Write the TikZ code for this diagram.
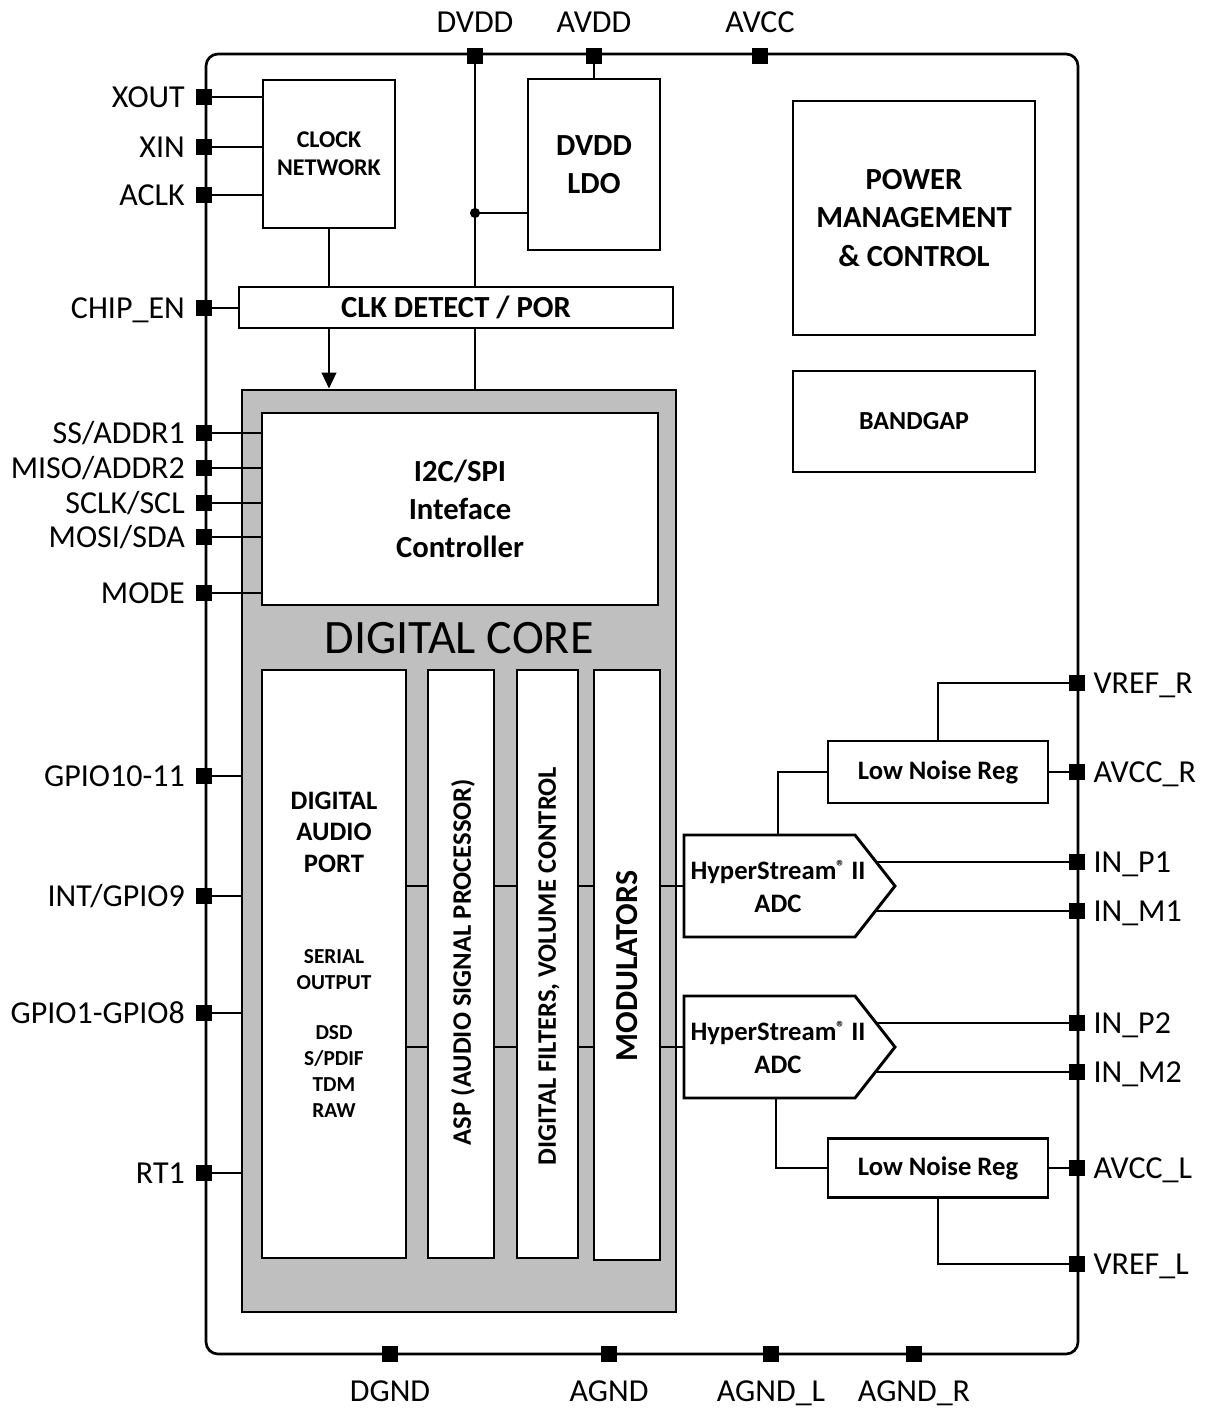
\documentclass[tikz,border=0pt]{standalone}
\usepackage{fontspec}
\setmainfont{Carlito}
\usetikzlibrary{arrows.meta,positioning,calc}
\definecolor{coregray}{HTML}{BFBFBF}
\newcommand{\myfs}[2]{\fontsize{#1}{#2}\selectfont}
\newcommand{\myreg}{{\myfs{13}{13}\raisebox{5pt}{®}}}
\begin{document}
\begin{tikzpicture}[x=0.75pt,y=-0.75pt,
  sz/.style 2 args={minimum width=#1*0.75pt, minimum height=#2*0.75pt},
  box/.style={draw, line width=2.2pt, fill=white, inner sep=0pt, align=center},
  wire/.style={line width=1.6pt},
  pinsq/.style={fill=black, minimum size=12pt, inner sep=0pt},
  pinl/.style={font=\myfs{24}{28}, inner sep=0pt, text height=15.5pt, text depth=0pt},
  btxt/.style={inner sep=0pt, align=center},
]
\useasboundingbox (0,0) rectangle (1209,1410);
\fill[white] (0,0) rectangle (1209,1410);

% chip outline and digital core
\node[box, sz={872}{1300}, rounded corners=9pt, line width=2pt] (chip) at (642,704) {};
\node[box, sz={434}{922}, fill=coregray] (core) at (459,851) {};

% blocks
\node[box, sz={132}{148}, font=\bfseries\myfs{18}{21}] (clk) at (329,154) {CLOCK\\NETWORK};
\node[box, sz={132}{171}, font=\bfseries\myfs{23}{28.5}] (ldo) at (594,164.5) {DVDD\\LDO};
\node[box, sz={434}{41}, font=\bfseries\myfs{23}{28}] (det) at (456,307.5) {CLK DETECT / POR};
\node[box, sz={242}{234}, font=\bfseries\myfs{23}{28.8}] (pmc) at (914,218) {POWER\\MANAGEMENT\\\& CONTROL};
\node[box, sz={242}{101}, font=\bfseries\myfs{19.5}{24}] (bg) at (914,421.5) {BANDGAP};
\node[box, sz={396}{192}, font=\bfseries\myfs{23}{28.5}] (i2c) at (460,509) {I2C/SPI\\Inteface\\Controller};
\node[btxt, font=\myfs{36}{40}] (coretitle) at (459,638) {DIGITAL CORE};

\node[box, sz={144}{588}] (dap) at (334,964) {};
\node[btxt, font=\bfseries\myfs{20}{23.6}] (daptxt1) at (334,832) {DIGITAL\\AUDIO\\PORT};
\node[btxt, font=\bfseries\myfs{16}{19.5}] (daptxt2) at (334,970) {SERIAL\\OUTPUT};
\node[btxt, font=\bfseries\myfs{16}{19.3}] (daptxt3) at (334,1071.5) {DSD\\S/PDIF\\TDM\\RAW};

\node[box, sz={66}{588}] (asp) at (461,964) {};
\node[btxt, rotate=90, font=\bfseries\myfs{20}{24}] (asptxt) at (463,962) {ASP (AUDIO SIGNAL PROCESSOR)};
\node[box, sz={61}{588}] (dfv) at (547.5,964) {};
\node[btxt, rotate=90, font=\bfseries\myfs{20}{24}] (dfvtxt) at (549,966) {DIGITAL FILTERS, VOLUME CONTROL};
\node[box, sz={66}{590}] (mod) at (627,965) {};
\node[btxt, rotate=90, font=\bfseries\myfs{24}{28}] (modtxt) at (627,966) {MODULATORS};

% ADC 1
\coordinate (a1nw) at (684,835);
\coordinate (a1ne) at (855,835);
\coordinate (a1tip) at (895,886);
\coordinate (a1se) at (855,937);
\coordinate (a1sw) at (684,937);
\draw[line width=2.2pt, fill=white, line join=miter] (a1nw) -- (a1ne) -- (a1tip) -- (a1se) -- (a1sw) -- cycle;
\node[btxt, font=\bfseries\myfs{20}{24.75}] (adc1) at (778,886.5) {HyperStream\myreg\ II\\ADC};
\coordinate (a1in) at (684,886);
\coordinate (a1top) at (778,835);
\coordinate (a1p) at (876,862);
\coordinate (a1m) at (876,911);

% ADC 2
\coordinate (a2nw) at (684,996);
\coordinate (a2ne) at (855,996);
\coordinate (a2tip) at (895,1047);
\coordinate (a2se) at (855,1098);
\coordinate (a2sw) at (684,1098);
\draw[line width=2.2pt, fill=white, line join=miter] (a2nw) -- (a2ne) -- (a2tip) -- (a2se) -- (a2sw) -- cycle;
\node[btxt, font=\bfseries\myfs{20}{24.75}] (adc2) at (778,1047.5) {HyperStream\myreg\ II\\ADC};
\coordinate (a2in) at (684,1047);
\coordinate (a2bot) at (776,1098);
\coordinate (a2p) at (876,1023);
\coordinate (a2m) at (876,1072);

% regulators
\node[box, sz={220}{62}, font=\bfseries\myfs{20}{24}] (lnrR) at (938,772) {Low Noise Reg};
\node[box, sz={220}{59}, font=\bfseries\myfs{20}{24}] (lnrL) at (938,1168) {Low Noise Reg};

% pins: left
\node[pinsq] (pXOUT) at (204,97) {};
\node[pinsq] (pXIN) at (204,147) {};
\node[pinsq] (pACLK) at (204,195) {};
\node[pinsq] (pCHIP) at (204,308) {};
\node[pinsq] (pSS) at (204,433) {};
\node[pinsq] (pMISO) at (204,468) {};
\node[pinsq] (pSCLK) at (204,503) {};
\node[pinsq] (pMOSI) at (204,537) {};
\node[pinsq] (pMODE) at (204,593) {};
\node[pinsq] (pG1011) at (204,776) {};
\node[pinsq] (pG9) at (204,896) {};
\node[pinsq] (pG18) at (204,1013) {};
\node[pinsq] (pRT1) at (204,1173) {};
% pins: right
\node[pinsq] (pVREFR) at (1077,683) {};
\node[pinsq] (pAVCCR) at (1077,772) {};
\node[pinsq] (pINP1) at (1077,862) {};
\node[pinsq] (pINM1) at (1077,911) {};
\node[pinsq] (pINP2) at (1077,1023) {};
\node[pinsq] (pINM2) at (1077,1072) {};
\node[pinsq] (pAVCCL) at (1077,1168) {};
\node[pinsq] (pVREFL) at (1077,1264) {};
% pins: top
\node[pinsq] (pDVDD) at (475,56) {};
\node[pinsq] (pAVDD) at (594,56) {};
\node[pinsq] (pAVCC) at (760,56) {};
% pins: bottom
\node[pinsq] (pDGND) at (390,1354) {};
\node[pinsq] (pAGND) at (609,1354) {};
\node[pinsq] (pAGNDL) at (771,1354) {};
\node[pinsq] (pAGNDR) at (914,1354) {};

% connectors
\begin{scope}[wire]
\draw (pXOUT) -- (pXOUT -| clk.west);
\draw (pXIN) -- (pXIN -| clk.west);
\draw (pACLK) -- (pACLK -| clk.west);
\draw (pCHIP) -- (pCHIP -| det.west);
\draw (pSS) -- (pSS -| i2c.west);
\draw (pMISO) -- (pMISO -| i2c.west);
\draw (pSCLK) -- (pSCLK -| i2c.west);
\draw (pMOSI) -- (pMOSI -| i2c.west);
\draw (pMODE) -- (pMODE -| i2c.west);
\draw (pG1011) -- (pG1011 -| core.west);
\draw (pG9) -- (pG9 -| core.west);
\draw (pG18) -- (pG18 -| core.west);
\draw (pRT1) -- (pRT1 -| core.west);

\draw (pDVDD) -- (pDVDD |- det.north);
\draw (pDVDD |- det.south) -- (pDVDD |- core.north);
\coordinate (jn) at (pDVDD |- 0,213);
\draw (jn) -- (jn -| ldo.west);
\fill (jn) circle (3.8pt);
\draw (pAVDD) -- (ldo.north);
\draw (clk.south) -- (clk.south |- det.north);
\draw[-{Triangle[length=12pt,width=11pt]}] (clk.south |- det.south) -- (clk.south |- core.north);

\foreach \nm in {a1in, a2in} {
  \draw (dap.east |- \nm) -- (asp.west |- \nm);
  \draw (asp.east |- \nm) -- (dfv.west |- \nm);
  \draw (dfv.east |- \nm) -- (mod.west |- \nm);
  \draw (mod.east |- \nm) -- (\nm);
}

\draw (lnrR.north) |- (pVREFR);
\draw (a1top) |- (lnrR.west);
\draw (lnrR.east) -- (pAVCCR);
\draw (a1p) -- (pINP1);
\draw (a1m) -- (pINM1);
\draw (a2p) -- (pINP2);
\draw (a2m) -- (pINM2);
\draw (a2bot) |- (lnrL.west);
\draw (lnrL.east) -- (pAVCCL);
\draw (lnrL.south) |- (pVREFL);
\end{scope}

% redraw pins on top
\foreach \p in {pXOUT,pXIN,pACLK,pCHIP,pSS,pMISO,pSCLK,pMOSI,pMODE,pG1011,pG9,pG18,pRT1,
  pVREFR,pAVCCR,pINP1,pINM1,pINP2,pINM2,pAVCCL,pVREFL,pDVDD,pAVDD,pAVCC,pDGND,pAGND,pAGNDL,pAGNDR}
  \fill (\p.north west) rectangle (\p.south east);

% pin labels
\node[pinl, left=8pt of pXOUT] (tXOUT) {XOUT};
\node[pinl, left=8pt of pXIN] (tXIN) {XIN};
\node[pinl, left=8pt of pACLK] (tACLK) {ACLK};
\node[pinl, left=8pt of pCHIP] (tCHIP) {CHIP\_EN};
\node[pinl, left=8pt of pSS] (tSS) {SS/ADDR1};
\node[pinl, left=8pt of pMISO] (tMISO) {MISO/ADDR2};
\node[pinl, left=8pt of pSCLK] (tSCLK) {SCLK/SCL};
\node[pinl, left=8pt of pMOSI] (tMOSI) {MOSI/SDA};
\node[pinl, left=8pt of pMODE] (tMODE) {MODE};
\node[pinl, left=8pt of pG1011] (tG1011) {GPIO10-11};
\node[pinl, left=8pt of pG9] (tG9) {INT/GPIO9};
\node[pinl, left=8pt of pG18] (tG18) {GPIO1-GPIO8};
\node[pinl, left=8pt of pRT1] (tRT1) {RT1};

\node[pinl, right=6pt of pVREFR] (tVREFR) {VREF\_R};
\node[pinl, right=6pt of pAVCCR] (tAVCCR) {AVCC\_R};
\node[pinl, right=6pt of pINP1] (tINP1) {IN\_P1};
\node[pinl, right=6pt of pINM1] (tINM1) {IN\_M1};
\node[pinl, right=6pt of pINP2] (tINP2) {IN\_P2};
\node[pinl, right=6pt of pINM2] (tINM2) {IN\_M2};
\node[pinl, right=6pt of pAVCCL] (tAVCCL) {AVCC\_L};
\node[pinl, right=6pt of pVREFL] (tVREFL) {VREF\_L};

\node[pinl, above=11pt of pDVDD] (tDVDD) {DVDD};
\node[pinl, above=11pt of pAVDD] (tAVDD) {AVDD};
\node[pinl, above=11pt of pAVCC] (tAVCC) {AVCC};

\node[pinl, below=14pt of pDGND] (tDGND) {DGND};
\node[pinl, below=14pt of pAGND] (tAGND) {AGND};
\node[pinl, below=14pt of pAGNDL] (tAGNDL) {AGND\_L};
\node[pinl, below=14pt of pAGNDR] (tAGNDR) {AGND\_R};
\end{tikzpicture}
\end{document}
